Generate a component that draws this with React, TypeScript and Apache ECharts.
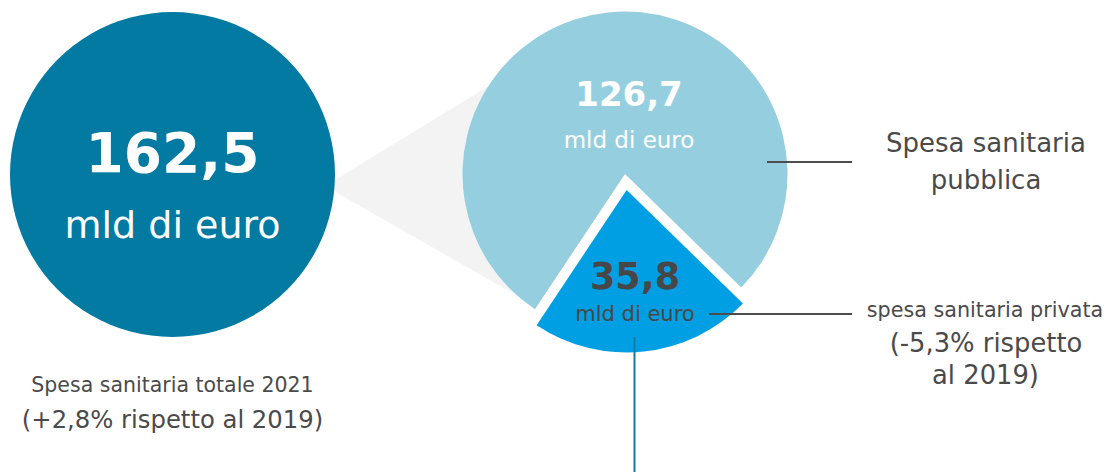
import React, { useEffect, useRef } from "react";
import * as echarts from "echarts";

// ---- data ----
const sliceNames = ["Spesa sanitaria pubblica", "spesa sanitaria privata"];
const sliceValues = [126.7, 35.8];
const totalName = ["Spesa sanitaria totale 2021"];
const totalValue = [162.5];
const unitLabel = "mld di euro";
const totalNote = "(+2,8% rispetto al 2019)";
const publicLabelLines = ["Spesa sanitaria", "pubblica"];
const privateLabelLines = ["spesa sanitaria privata", "(-5,3% rispetto", "al 2019)"];

const fmt = (v: number) => v.toFixed(1).replace(".", ",");

const FONT = '"DejaVu Sans", sans-serif';
const GRAY = "#4a4a4a";

export default function App() {
  const ref = useRef<HTMLDivElement>(null);

  useEffect(() => {
    document.body.style.margin = "0";
    const chart = echarts.init(ref.current!, null, { renderer: "svg" });

    const txt = (text: string, x: number, y: number, size: number, color: string, weight = "normal") => ({
      type: "text",
      x,
      y,
      z: 100,
      silent: true,
      style: {
        text,
        fill: color,
        font: `${weight} ${size}px ${FONT}`,
        textAlign: "center",
        textVerticalAlign: "middle",
      },
    });

    const line = (x1: number, y1: number, x2: number, y2: number, color: string) => ({
      type: "line",
      z: 50,
      silent: true,
      shape: { x1, y1, x2, y2 },
      style: { stroke: color, lineWidth: 2 },
    });

    chart.setOption({
      animation: false,
      backgroundColor: "#ffffff",
      graphic: [
        {
          type: "polygon",
          z: 0,
          silent: true,
          shape: { points: [[325, 186], [520, 67], [600, 174], [530, 303]] },
          style: { fill: "#f3f3f3" },
        },
        txt(fmt(totalValue[0]), 172.5, 153, 55, "#ffffff", "bold"),
        txt(unitLabel, 172.5, 225, 38, "#ffffff"),
        txt(totalName[0], 172.5, 385, 20.5, GRAY),
        txt(totalNote, 172.5, 419, 24.3, GRAY),
        txt(fmt(sliceValues[0]), 629, 93.5, 34, "#ffffff", "bold"),
        txt(unitLabel, 629, 140, 23, "#ffffff"),
        txt(fmt(sliceValues[1]), 635, 276.5, 36.5, "#474747", "bold"),
        txt(unitLabel, 635, 313.5, 21, "#474747"),
        txt(publicLabelLines[0], 986, 143, 26, GRAY),
        txt(publicLabelLines[1], 986, 180, 26, GRAY),
        txt(privateLabelLines[0], 985, 310, 20.7, GRAY),
        txt(privateLabelLines[1], 986, 343, 25.8, GRAY),
        txt(privateLabelLines[2], 985.5, 375, 25.8, GRAY),
        line(767, 162, 852, 162, "#4d4d4d"),
        line(709, 314, 852, 314, "#4d4d4d"),
        line(634.5, 337, 634.5, 472, "#1a78a0"),
      ],
      series: [
        {
          type: "pie",
          z: 2,
          silent: true,
          center: [172.5, 174.5],
          radius: 162.5,
          label: { show: false },
          labelLine: { show: false },
          emphasis: { disabled: true },
          data: [{ name: totalName[0], value: totalValue[0], itemStyle: { color: "#027aa1" } }],
        },
        {
          type: "pie",
          z: 2,
          silent: true,
          center: [625, 174],
          radius: 162.5,
          startAngle: 236.35,
          clockwise: true,
          selectedMode: "single",
          selectedOffset: 16,
          label: { show: false },
          labelLine: { show: false },
          emphasis: { disabled: true },
          data: [
            { name: sliceNames[0], value: sliceValues[0], itemStyle: { color: "#95cfdf" } },
            { name: sliceNames[1], value: sliceValues[1], selected: true, itemStyle: { color: "#009fe3" }, select: { itemStyle: { color: "#009fe3" } } },
          ],
        },
      ],
    });

    return () => chart.dispose();
  }, []);

  return (
    <div
      ref={ref}
      style={{ position: "fixed", left: 0, top: 0, width: 1109, height: 472 }}
    />
  );
}
